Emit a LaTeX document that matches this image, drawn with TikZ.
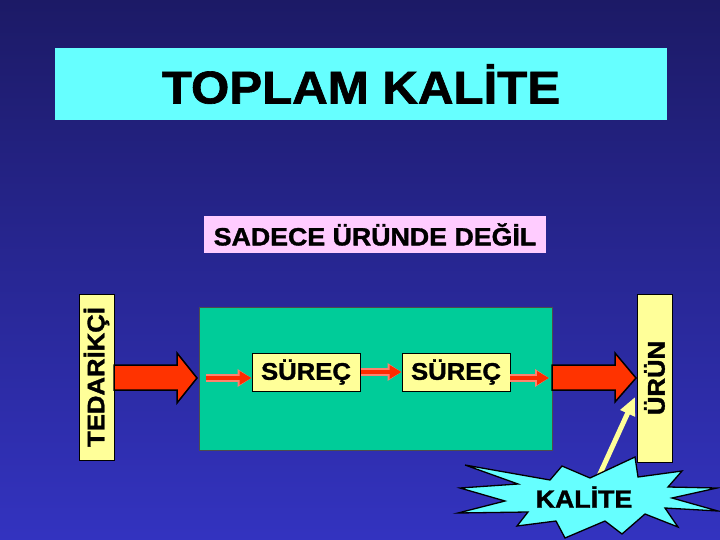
\documentclass[tikz,border=0pt]{standalone}
\usepackage{fontspec}
\setmainfont{Liberation Sans}[FakeStretch=1.07,BoldFeatures={FakeBold=1.4}]
\usetikzlibrary{arrows.meta,positioning}

\definecolor{bgtop}{RGB}{28,26,102}
\definecolor{bgmid}{RGB}{44,43,160}
\definecolor{bgbot}{RGB}{51,51,192}
\definecolor{titlecyan}{RGB}{102,255,255}
\definecolor{pinkbox}{RGB}{255,204,255}
\definecolor{paleyellow}{RGB}{255,255,153}
\definecolor{procgreen}{RGB}{0,204,153}
\definecolor{bigred}{RGB}{255,51,0}
\definecolor{halo}{RGB}{255,130,110}

\begin{document}
\begin{tikzpicture}[x=1pt,y=-1pt,line width=1pt,
    label box/.style={fill=#1,inner sep=0pt,font=\bfseries},
    side box/.style={draw=black,fill=paleyellow,rotate=90,inner sep=0pt,
        minimum height=35,font=\bfseries\fontsize{24}{26}\selectfont},
    surec box/.style={draw=black,fill=paleyellow,minimum width=108,minimum height=38,
        inner sep=0pt,font=\bfseries\fontsize{24}{26}\selectfont},
    big arrow/.style={draw=black,fill=bigred,line width=1.5pt,line join=miter},
    flow arrow/.style={draw=bigred!85!red,line width=4.5pt,-{Triangle[width=13pt,length=12pt]},
        preaction={draw=halo,line width=7.5pt,-{Triangle[width=17pt,length=14pt]}}}]
    \useasboundingbox (0,0) rectangle (720,540);
    \shade [top color=bgtop,middle color=bgmid,bottom color=bgbot] (0,0) rectangle (720,540);
    % headings
    \node [label box=titlecyan,minimum width=612,minimum height=72,
        font=\bfseries\fontsize{46}{50}\selectfont] (title) at (361,84) {TOPLAM KALİTE};
    \node [label box=pinkbox,minimum width=342,minimum height=37,
        font=\bfseries\fontsize{25}{27}\selectfont] (note) at (375,234.5) {SADECE ÜRÜNDE DEĞİL};
    % process block
    \node [draw=black!70,fill=procgreen,minimum width=353,minimum height=143,inner sep=0pt] (proses) at (375.5,378.5) {};
    \node [surec box] (surec1) at (306,372) {SÜREÇ};
    \node [surec box] (surec2) at (456,372) {SÜREÇ};
    \node [side box,minimum width=166] (tedarikci) at (96.5,377) {TEDARİKÇİ};
    \node [side box,minimum width=168] (urun) at (654.5,378) {ÜRÜN};
    % big input / output arrows
    \draw [big arrow] (114,365) -- (177,365) -- (177,353) -- (197,378) -- (177,403) -- (177,390) -- (114,390) -- cycle;
    \draw [big arrow] (552,365) -- (615,365) -- (615,353) -- (636,378) -- (615,402) -- (615,390) -- (552,390) -- cycle;
    % flow inside
    \coordinate (in) at (206,378);
    \coordinate (out1) at (510,378);
    \coordinate (out2) at (549,378);
    \draw [flow arrow] (in) -- (surec1.west |- in);
    \draw [flow arrow] (surec1) -- (surec2);
    \draw [flow arrow] (out1) -- (out2);
    % quality star
    \coordinate (kq) at (599,476);
    \coordinate (uq) at (635,397);
    \draw [paleyellow,line width=5pt,-{Triangle[width=15pt,length=18pt]}] (kq) -- (uq);
    \draw [fill=titlecyan,draw=black,line width=1.3pt,line join=miter]
        (465,465) -- (550,480) -- (562,466) -- (590,478) -- (635,457) -- (638,477)
        -- (682,471) -- (668,487) -- (717,488) -- (672,498) -- (718,511) -- (665,508)
        -- (678,527) -- (645,514) -- (622,534) -- (605,521) -- (565,538) -- (556,521)
        -- (517,526) -- (528,512) -- (458,513) -- (505,501) -- (460,488) -- (518,484) -- cycle;
    \node [font=\bfseries\fontsize{25}{27}\selectfont,inner sep=0pt] (kalite) at (584,497) {KALİTE};
\end{tikzpicture}
\end{document}
